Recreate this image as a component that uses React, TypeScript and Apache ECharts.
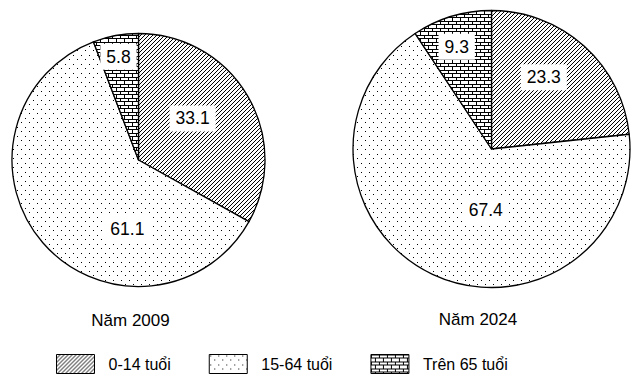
import React, { useEffect, useRef } from "react";
import * as echarts from "echarts";

const categories = ["0-14 tuổi", "15-64 tuổi", "Trên 65 tuổi"];
const years = ["Năm 2009", "Năm 2024"];
const values2009 = [33.1, 61.1, 5.8];
const values2024 = [23.3, 67.4, 9.3];

const LABEL_FONT = "'Liberation Sans', Arial, sans-serif";
const TEXT_FONT = "'Liberation Sans', Arial, sans-serif";

// label nudges relative to the default "inside" label position (px)
const labelShift2009 = [[-3, -8], [39, 26], [-8, -38]];
const labelShift2024 = [[4, -18], [25, -4], [-14, -33]];

function makeTile(w: number, h: number, draw: (ctx: CanvasRenderingContext2D) => void) {
  const c = document.createElement("canvas");
  c.width = w;
  c.height = h;
  const ctx = c.getContext("2d") as CanvasRenderingContext2D;
  ctx.fillStyle = "#fff";
  ctx.fillRect(0, 0, w, h);
  ctx.fillStyle = "#000";
  draw(ctx);
  return c;
}

function makePatterns() {
  const hatch = makeTile(4, 4, (ctx) => {
    for (let i = 0; i < 4; i++) ctx.fillRect(i, 3 - i, 1, 1);
  });
  const dots = makeTile(8, 9, (ctx) => {
    ctx.fillRect(1, 1, 1, 1);
    ctx.fillRect(5, 5, 1, 1);
  });
  const brick = makeTile(8, 7, (ctx) => {
    ctx.fillRect(0, 0, 8, 1);
    ctx.fillRect(0, 3, 8, 1);
    ctx.fillRect(0, 1, 1, 2);
    ctx.fillRect(4, 4, 1, 3);
  });
  return [hatch, dots, brick].map((image) => ({ image, repeat: "repeat" }));
}

export default function App() {
  const ref = useRef<HTMLDivElement>(null);
  useEffect(() => {
    if (!ref.current) return;
    const chart = echarts.init(ref.current, null, { renderer: "svg" });
    const patterns = makePatterns();
    const mkSeries = (name: string, values: number[], center: number[], radius: number, shifts: number[][]) => ({
      type: "pie",
      name,
      center,
      radius,
      startAngle: 90,
      clockwise: true,
      silent: true,
      emphasis: { disabled: true },
      labelLine: { show: false },
      itemStyle: { borderColor: "#000", borderWidth: 1.3 },
      label: {
        show: true,
        position: "inside",
        formatter: "{c}",
        color: "#000",
        fontFamily: LABEL_FONT,
        fontSize: 17.5,
        backgroundColor: "#fff",
        padding: [4, 6],
      },
      labelLayout: (p: any) => ({ dx: shifts[p.dataIndex][0], dy: shifts[p.dataIndex][1] }),
      data: categories.map((c, i) => ({ name: c, value: values[i], itemStyle: { color: patterns[i] } })),
    });
    chart.setOption({
      animation: false,
      legend: {
        data: categories,
        left: 56,
        top: 354,
        padding: 0,
        itemWidth: 38,
        itemHeight: 19,
        itemGap: 38,
        icon: "rect",
        selectedMode: false,
        itemStyle: { borderColor: "#000", borderWidth: 1 },
        textStyle: { fontFamily: TEXT_FONT, fontSize: 16, color: "#000", padding: [0, 0, 0, 9] },
      },
      graphic: [
        { type: "text", x: 130.5, y: 320, style: { text: years[0], font: `17px ${TEXT_FONT}`, fill: "#000", align: "center", verticalAlign: "middle" } },
        { type: "text", x: 478, y: 319, style: { text: years[1], font: `17px ${TEXT_FONT}`, fill: "#000", align: "center", verticalAlign: "middle" } },
      ],
      series: [
        mkSeries(years[0], values2009, [138.5, 160], 126.5, labelShift2009),
        mkSeries(years[1], values2024, [491.5, 149], 138.5, labelShift2024),
      ],
    });
    return () => chart.dispose();
  }, []);
  return <div ref={ref} style={{ position: "fixed", left: 0, top: 0, width: 637, height: 390, background: "#fff" }} />;
}
